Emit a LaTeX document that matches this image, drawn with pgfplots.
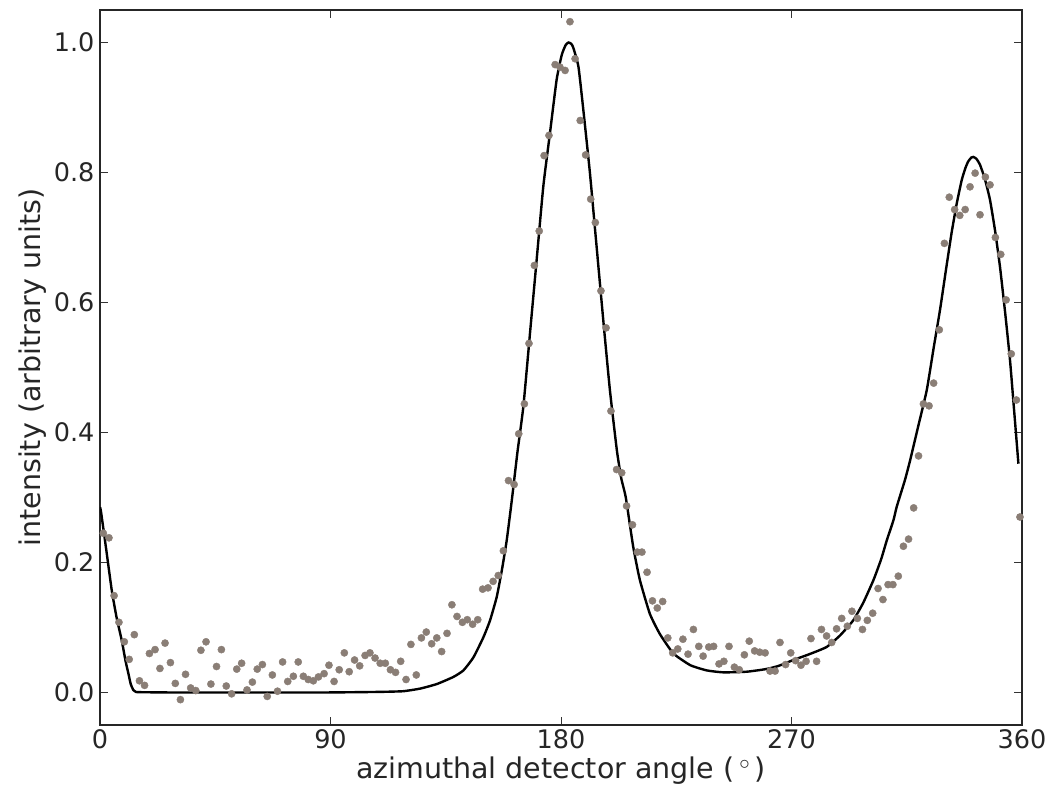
\documentclass[border=0pt]{standalone}
\usepackage{fontspec}
\setmainfont{DejaVu Sans}
\usepackage{pgfplots}
\pgfplotsset{compat=1.18}
\definecolor{dotgrey}{RGB}{138,126,118}

\begin{document}
\begin{tikzpicture}
\begin{axis}[
scale only axis,
width=922pt,
height=715pt,
xmin=0, xmax=360,
ymin=-0.05, ymax=1.05,
xtick={0,90,180,270,360},
ytick={0,0.2,0.4,0.6,0.8,1.0},
yticklabel style={xshift=-2pt,/pgf/number format/.cd,fixed,fixed zerofill,precision=1},
/pgf/number format/assume math mode=true,
tick align=inside,
major tick length=8pt,
tick style={line width=1pt,black!80},
axis line style={line width=1.6pt,black!85},
ticklabel style={font=\fontsize{25.5}{30}\selectfont, text=black!85},
label style={font=\fontsize{28.5}{33}\selectfont, text=black!85},
xlabel={azimuthal detector angle (\,$^\circ$\,)},
ylabel={intensity (arbitrary units)},
xlabel style={yshift=-1pt},
ylabel style={yshift=1pt},
xticklabel style={yshift=-1pt},
]
% measured points
\addplot[only marks, mark=*, mark size=3.6pt, color=dotgrey] coordinates {
(1.3,0.245) (3.5,0.238) (5.5,0.149) (7.4,0.108) (9.5,0.078) (11.4,0.051)
(13.4,0.089) (15.4,0.018) (17.4,0.011) (19.3,0.060) (21.5,0.066) (23.4,0.037)
(25.4,0.076) (27.5,0.046) (29.4,0.014) (31.4,-0.011) (33.4,0.028) (35.4,0.007)
(37.4,0.003) (39.4,0.065) (41.4,0.078) (43.3,0.013) (45.5,0.040) (47.4,0.066)
(49.3,0.010) (51.4,-0.002) (53.4,0.036) (55.3,0.045) (57.4,0.004) (59.5,0.016)
(61.4,0.036) (63.4,0.043) (65.3,-0.006) (67.3,0.027) (69.3,0.002) (71.3,0.047)
(73.3,0.017) (75.5,0.025) (77.4,0.047) (79.4,0.025) (81.3,0.020) (83.3,0.018)
(85.3,0.024) (87.5,0.029) (89.4,0.042) (91.4,0.017) (93.4,0.035) (95.4,0.061)
(97.3,0.032) (99.4,0.050) (101.4,0.041) (103.5,0.057) (105.4,0.061) (107.4,0.053)
(109.4,0.045) (111.4,0.045) (113.4,0.035) (115.4,0.031) (117.4,0.048) (119.5,0.020)
(121.4,0.074) (123.5,0.027) (125.5,0.084) (127.4,0.093) (129.5,0.075) (131.5,0.084)
(133.4,0.063) (135.5,0.091) (137.4,0.135) (139.4,0.117) (141.5,0.108) (143.4,0.112)
(145.5,0.105) (147.5,0.112) (149.4,0.159) (151.5,0.161) (153.5,0.171) (155.5,0.180)
(157.5,0.218) (159.5,0.326) (161.7,0.320) (163.5,0.398) (165.7,0.444) (167.5,0.537)
(169.6,0.657) (171.5,0.710) (173.4,0.826) (175.3,0.857) (177.7,0.966) (179.6,0.962)
(181.6,0.957) (183.5,1.032) (185.5,0.975) (187.5,0.880) (189.6,0.827) (191.6,0.759)
(193.4,0.723) (195.6,0.618) (197.6,0.561) (199.5,0.433) (201.7,0.343) (203.7,0.338)
(205.6,0.287) (207.9,0.258) (209.8,0.216) (211.6,0.216) (213.6,0.185) (215.7,0.141)
(217.6,0.130) (219.7,0.140) (221.7,0.084) (223.6,0.061) (225.6,0.067) (227.6,0.082)
(229.6,0.059) (231.7,0.097) (233.8,0.071) (235.5,0.056) (237.7,0.070) (239.6,0.071)
(241.7,0.044) (243.6,0.048) (245.6,0.071) (247.7,0.039) (249.6,0.035) (251.6,0.058)
(253.5,0.079) (255.6,0.064) (257.6,0.062) (259.7,0.061) (261.6,0.033) (263.6,0.033)
(265.5,0.077) (267.7,0.043) (269.7,0.061) (271.6,0.049) (273.7,0.042) (275.7,0.048)
(277.6,0.083) (279.8,0.048) (281.7,0.097) (283.7,0.087) (285.7,0.077) (287.6,0.098)
(289.6,0.114) (291.8,0.102) (293.6,0.125) (295.7,0.114) (297.7,0.097) (299.6,0.111)
(301.7,0.122) (303.8,0.160) (305.7,0.143) (307.7,0.166) (309.6,0.166) (311.7,0.179)
(313.7,0.225) (315.7,0.236) (317.7,0.284) (319.6,0.364) (321.5,0.444) (323.7,0.441)
(325.5,0.476) (327.7,0.558) (329.7,0.691) (331.6,0.762) (333.7,0.743) (335.7,0.734)
(337.8,0.743) (339.7,0.778) (341.7,0.799) (343.6,0.735) (345.7,0.793) (347.5,0.781)
(349.6,0.700) (351.7,0.674) (353.8,0.604) (355.8,0.521) (357.8,0.450) (359.2,0.270)
};
% fitted curve
\addplot[line width=2.4pt, black, smooth, tension=0.3] coordinates {
(0,0.285) (0.4,0.278) (2.5,0.218) (4.6,0.157) (6.5,0.115) (8.5,0.080)
(10,0.048) (11.1,0.029) (12,0.013) (13,0.004) (14,0.001) (15.6,0.0005)
(30,0.0) (60,0.0) (86,0.0) (100,0.0005) (110,0.001) (118.4,0.002)
(125,0.006) (131.5,0.013) (138,0.024) (141.9,0.034) (145.8,0.054) (149.7,0.085)
(152.3,0.111) (154.9,0.147) (156.9,0.188) (158.8,0.234) (160.8,0.296) (163,0.370)
(165.3,0.440) (167.9,0.553) (170.5,0.666) (173.1,0.779) (175.7,0.861) (178.3,0.943)
(180.3,0.981) (181.8,0.996) (182.9,1.0) (184.0,0.998) (184.8,0.992) (186.8,0.963)
(188.7,0.897) (191.3,0.799) (193.9,0.686) (196.5,0.573) (199.1,0.465) (201.8,0.373)
(203.5,0.330) (205.3,0.300) (208.2,0.224) (210.8,0.173) (214.7,0.121) (218.6,0.090)
(223.9,0.060) (230.5,0.042) (236.9,0.034) (243.4,0.031) (252.5,0.032) (260,0.036)
(265,0.041) (270.7,0.050) (277,0.059) (283.7,0.070) (289,0.088) (294.1,0.111)
(298,0.138) (302,0.173) (305,0.205) (307.2,0.234) (309.8,0.265) (311.1,0.286)
(314.3,0.327) (316.3,0.357) (319.5,0.410) (322.8,0.465) (325.5,0.530) (328,0.589)
(330.3,0.650) (332.5,0.707) (334.5,0.752) (336.5,0.789) (338,0.808) (339,0.817)
(340.2,0.823) (341,0.824) (342.2,0.821) (343.6,0.812) (345.5,0.790) (347.5,0.758)
(349.5,0.710) (351.4,0.655) (353.4,0.585) (355.3,0.512) (357,0.430) (358.6,0.352)
};
\end{axis}
\path ([shift={(-100pt,10pt)}]current axis.north west) rectangle ([shift={(31pt,-71pt)}]current axis.south east);
\end{tikzpicture}
\end{document}
